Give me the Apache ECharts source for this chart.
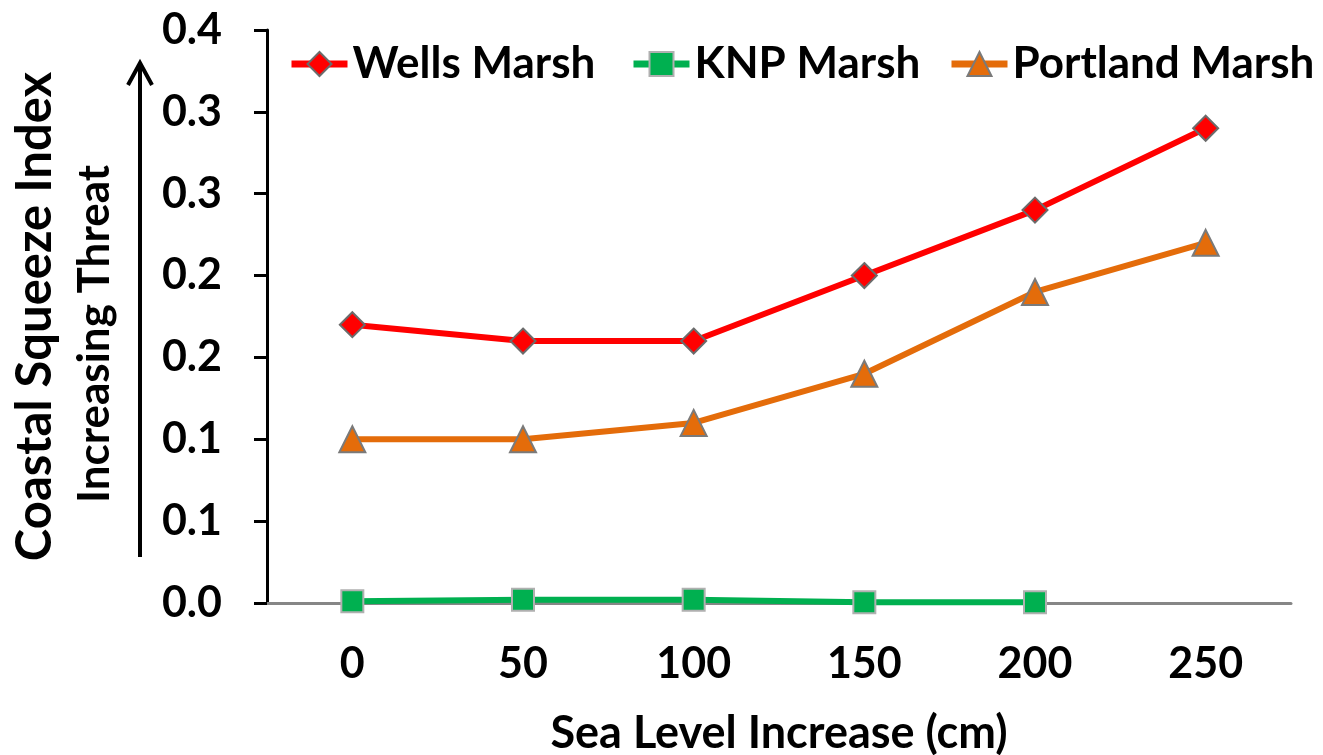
<!DOCTYPE html>
<html>
<head>
<meta charset="utf-8">
<script src="https://cdn.jsdelivr.net/npm/echarts@6/dist/echarts.min.js"></script>
<style>
  html, body { margin: 0; padding: 0; background: #fff; }
  #main { width: 1323px; height: 755px; }
</style>
</head>
<body>
<div id="main"></div>
<script>
var seaLevels = ['0', '50', '100', '150', '200', '250'];
var wellsMarsh = [0.17, 0.16, 0.16, 0.20, 0.24, 0.29];
var knpMarsh = [0.001, 0.002, 0.002, 0.0005, 0.0005];
var portlandMarsh = [0.10, 0.10, 0.11, 0.14, 0.19, 0.22];

var chart = echarts.init(document.getElementById('main'));
var font = 'Lato, "Liberation Sans", sans-serif';

// Excel-style rounding of tick labels (0.15 -> 0.2)
function tickLabel(v) {
    return (Math.round(v * 10 + 1e-9) / 10).toFixed(1);
}

// one legend per series so each entry sits where it does in the original
function legendAt(name, left) {
    return {
        top: 42,
        left: left,
        padding: 0,
        itemWidth: 56,
        itemHeight: 30,
        lineStyle: { width: 7 },
        textStyle: { fontFamily: font, fontWeight: 'bold', fontSize: 44, color: '#000' },
        data: [name]
    };
}

var option = {
    backgroundColor: '#fff',
    animation: false,
    textStyle: { fontFamily: font, fontWeight: 'bold', color: '#000' },
    grid: { left: 267, right: 32, top: 30, bottom: 152, outerBoundsMode: 'none' },
    legend: [
        legendAt('Wells Marsh', 288),
        legendAt('KNP Marsh', 630),
        legendAt('Portland Marsh', 948)
    ],
    xAxis: {
        type: 'category',
        data: seaLevels,
        name: 'Sea Level Increase (cm)',
        nameLocation: 'middle',
        nameGap: 108,
        nameTextStyle: { fontFamily: font, fontWeight: 'bold', fontSize: 45, color: '#000' },
        axisLine: { lineStyle: { color: '#868686', width: 3 } },
        axisTick: { show: false },
        axisLabel: { fontFamily: font, fontWeight: 'bold', fontSize: 43, color: '#000', margin: 40 }
    },
    yAxis: {
        type: 'value',
        min: 0,
        max: 0.35,
        interval: 0.05,
        name: 'Coastal Squeeze Index',
        nameLocation: 'middle',
        nameGap: 207,
        nameTextStyle: { fontFamily: font, fontWeight: 'bold', fontSize: 49, color: '#000' },
        splitLine: { show: false },
        axisLine: { show: true, lineStyle: { color: '#000', width: 3 } },
        axisTick: { show: true, length: 13, lineStyle: { color: '#000', width: 3 } },
        axisLabel: { fontFamily: font, fontWeight: 'bold', fontSize: 43, color: '#000', margin: 45, formatter: tickLabel }
    },
    graphic: [
        {
            type: 'text',
            x: 95,
            y: 334,
            rotation: Math.PI / 2,
            style: {
                text: 'Increasing Threat',
                font: 'bold 44px ' + font,
                fill: '#000',
                align: 'center',
                verticalAlign: 'middle'
            }
        },
        {
            type: 'line',
            shape: { x1: 140, y1: 557, x2: 140, y2: 64 },
            style: { stroke: '#000', lineWidth: 4 }
        },
        {
            type: 'polyline',
            shape: { points: [[128, 85], [140, 63], [152, 85]] },
            style: { stroke: '#000', lineWidth: 4, fill: null }
        }
    ],
    series: [
        {
            name: 'Wells Marsh',
            type: 'line',
            data: wellsMarsh,
            symbol: 'diamond',
            symbolSize: 25,
            lineStyle: { color: '#ff0000', width: 6 },
            itemStyle: { color: '#ff0000', borderColor: '#6b6b6b', borderWidth: 2 }
        },
        {
            name: 'KNP Marsh',
            type: 'line',
            data: knpMarsh,
            symbol: 'rect',
            symbolSize: 22,
            lineStyle: { color: '#00b050', width: 6 },
            itemStyle: { color: '#00b050', borderColor: '#b0b0b0', borderWidth: 2 }
        },
        {
            name: 'Portland Marsh',
            type: 'line',
            data: portlandMarsh,
            symbol: 'triangle',
            symbolSize: 26,
            lineStyle: { color: '#e46c0a', width: 6 },
            itemStyle: { color: '#e46c0a', borderColor: '#7a7a7a', borderWidth: 2 }
        }
    ]
};

chart.setOption(option);
</script>
</body>
</html>
